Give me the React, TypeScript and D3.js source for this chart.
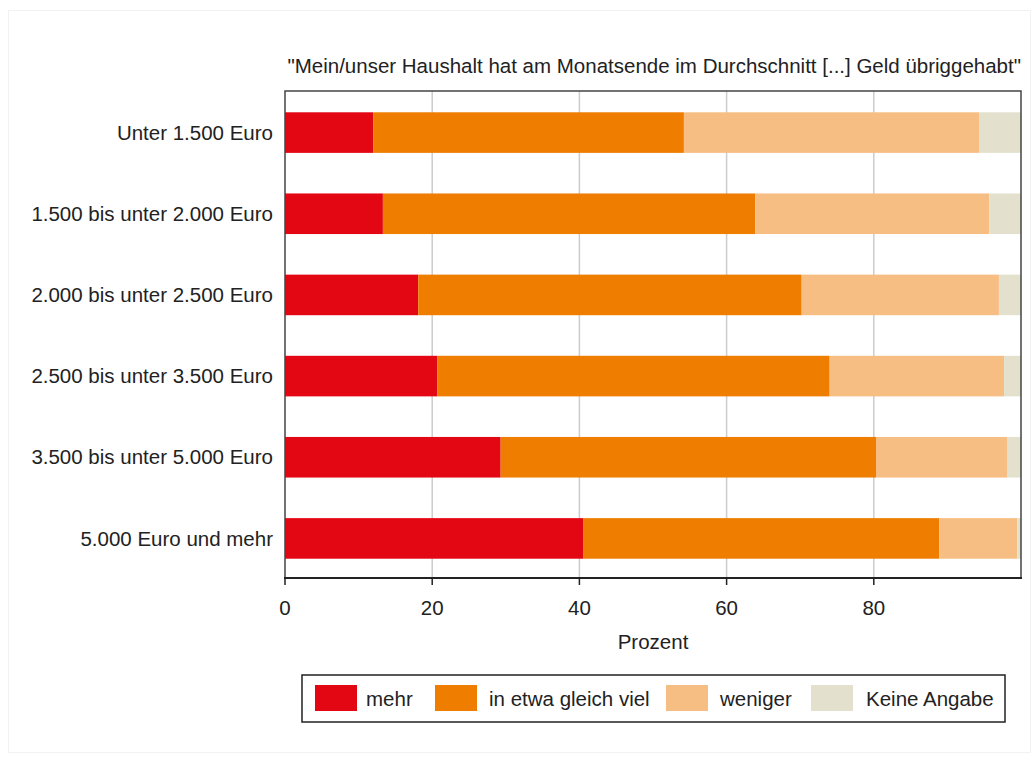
import React from "react";
import * as d3 from "d3";

const categories = [
  "Unter 1.500 Euro",
  "1.500 bis unter 2.000 Euro",
  "2.000 bis unter 2.500 Euro",
  "2.500 bis unter 3.500 Euro",
  "3.500 bis unter 5.000 Euro",
  "5.000 Euro und mehr",
];
const seriesNames = ["mehr", "in etwa gleich viel", "weniger", "Keine Angabe"];
const mehr = [12.0, 13.3, 18.1, 20.7, 29.3, 40.5];
const gleich = [42.2, 50.6, 52.1, 53.3, 51.0, 48.4];
const weniger = [40.1, 31.8, 26.8, 23.7, 17.8, 10.6];
const keine = [5.7, 4.3, 3.0, 2.3, 1.9, 0.5];
const xTicks = [0, 20, 40, 60, 80];
const colors = ["#e30613", "#ef7d00", "#f7be84", "#e3e1cd"];

const W = 1036, H = 758;
const L = 285, R = 1021, T = 91, B = 578;
const FONT = "'Liberation Sans', Arial, sans-serif";
const FS = 20.5;

export default function App() {
  const x = d3.scaleLinear().domain([0, 100]).range([L, R]);
  const y = d3.scaleBand().domain(categories).range([T + 1, B + 1]).paddingInner(0.5).paddingOuter(0.25);
  const table = categories.map((c, i) => ({ cat: c, mehr: mehr[i], gleich: gleich[i], weniger: weniger[i], keine: keine[i] }));
  const keys = ["mehr", "gleich", "weniger", "keine"];
  const stacked = d3.stack<any>().keys(keys)(table);

  const legendItems = [
    { sx: 315, tx: 366 },
    { sx: 435, tx: 489 },
    { sx: 666, tx: 720 },
    { sx: 811, tx: 866 },
  ];

  return (
    <svg width={W} height={H} style={{ position: "absolute", left: 0, top: 0 }} fontFamily={FONT}>
      <rect x={0} y={0} width={W} height={H} fill="#fff" />
      <rect x={8.5} y={10.5} width={1022} height={742} fill="none" stroke="#f2f2f2" />
      <text x={R} y={73} textAnchor="end" fontSize={FS} fill="#222">
        "Mein/unser Haushalt hat am Monatsende im Durchschnitt [...] Geld übriggehabt"
      </text>
      {xTicks.filter((t) => t > 0).map((t) => (
        <line key={t} x1={x(t)} x2={x(t)} y1={T} y2={B} stroke="#cccccc" strokeWidth={1.5} />
      ))}
      {stacked.map((s, si) => (
        <g key={si} fill={colors[si]}>
          {s.map((d: any, i: number) => (
            <rect key={i} x={x(d[0])} y={y(categories[i])} width={Math.max(0, x(d[1]) - x(d[0]))} height={y.bandwidth()} />
          ))}
        </g>
      ))}
      <path d={`M${L},${B} L${L},${T} L${R},${T} L${R},${B}`} fill="none" stroke="#444" strokeWidth={1.5} />
      <line x1={L - 1} x2={R + 1} y1={B} y2={B} stroke="#222" strokeWidth={2} />
      {xTicks.map((t) => (
        <g key={t}>
          <line x1={x(t)} x2={x(t)} y1={B} y2={B + 7} stroke="#222" strokeWidth={1.5} />
          <text x={x(t)} y={615} textAnchor="middle" fontSize={FS} fill="#222">{t}</text>
        </g>
      ))}
      {categories.map((c) => (
        <text key={c} x={273} y={(y(c) as number) + y.bandwidth() / 2} dy="0.35em" textAnchor="end" fontSize={FS} fill="#222">
          {c}
        </text>
      ))}
      <text x={(L + R) / 2} y={649} textAnchor="middle" fontSize={FS} fill="#222">Prozent</text>
      <rect x={302} y={675} width={703} height={47} fill="#fff" stroke="#222" strokeWidth={1.5} />
      {seriesNames.map((n, i) => (
        <g key={n}>
          <rect x={legendItems[i].sx} y={685} width={42} height={26} fill={colors[i]} />
          <text x={legendItems[i].tx} y={699} dy="0.35em" fontSize={FS} fill="#222">{n}</text>
        </g>
      ))}
    </svg>
  );
}
